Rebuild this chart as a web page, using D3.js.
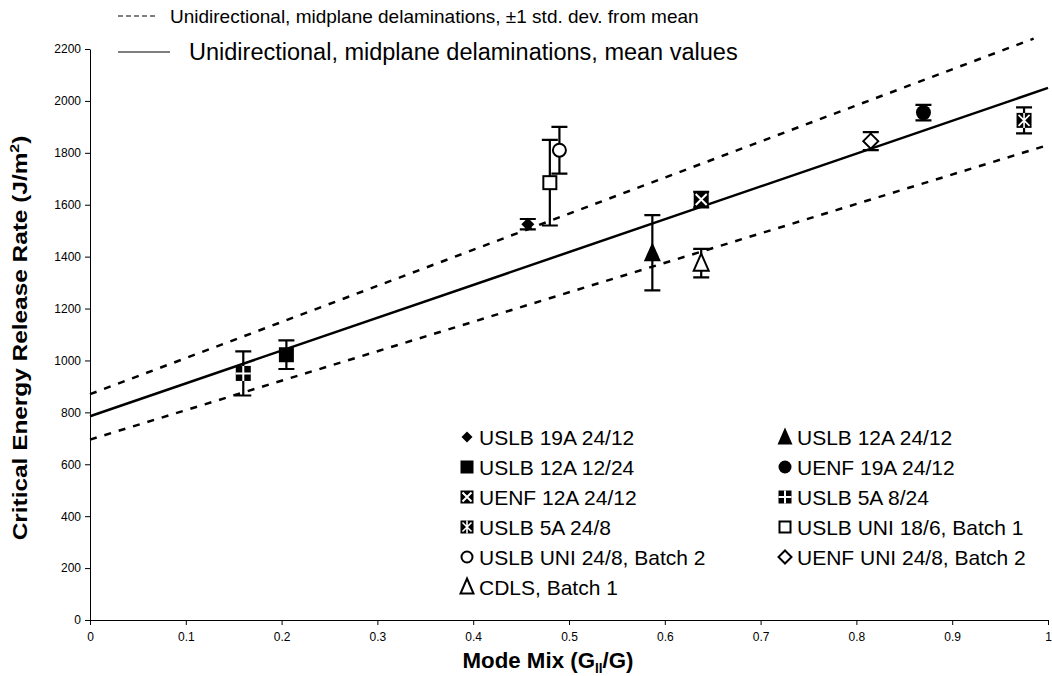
<!DOCTYPE html>
<html>
<head>
<meta charset="utf-8">
<script src="https://cdn.jsdelivr.net/npm/d3@7"></script>
<style>
  body { margin: 0; background: #fff; }
  svg { font-family: 'Liberation Sans', Arial, sans-serif; }
</style>
</head>
<body>
<div id="chart"></div>
<script>
// dados
const seriesNames = [
  'USLB 19A 24/12', 'USLB 12A 24/12',
  'USLB 12A 12/24', 'UENF 19A 24/12',
  'UENF 12A 24/12', 'USLB 5A 8/24',
  'USLB 5A 24/8', 'USLB UNI 18/6, Batch 1',
  'USLB UNI 24/8, Batch 2', 'UENF UNI 24/8, Batch 2',
  'CDLS, Batch 1'
]
const seriesX = [0.457, 0.587, 0.205, 0.870, 0.638, 0.160, 0.975, 0.480, 0.490, 0.815, 0.638]
const seriesY = [1525, 1415, 1022, 1955, 1620, 950, 1925, 1685, 1810, 1845, 1375]
const seriesErr = [20, 145, 55, 30, 30, 85, 50, 165, 90, 35, 55]

const meanX = [0, 1]
const meanY = [785, 2050]
const upperX = [0, 0.985]
const upperY = [870, 2240]
const lowerX = [0, 1]
const lowerY = [695, 1830]

const xTicks = [0, 0.1, 0.2, 0.3, 0.4, 0.5, 0.6, 0.7, 0.8, 0.9, 1]
const yTicks = [0, 200, 400, 600, 800, 1000, 1200, 1400, 1600, 1800, 2000, 2200]

const lineLabels = [
  'Unidirectional, midplane delaminations, \u00b11 std. dev. from mean',
  'Unidirectional, midplane delaminations, mean values'
]

const width = 1052
const height = 676
const margin = { top: 49, bottom: 56, left: 90, right: 4 }
const font = "'Liberation Sans', Arial, sans-serif"

const svg = d3.select('#chart')
  .append('svg')
  .attr('width', width)
  .attr('height', height)

const x = d3.scaleLinear()
  .domain([0, 1])
  .range([margin.left, width - margin.right])

const y = d3.scaleLinear()
  .domain([0, 2200])
  .range([height - margin.bottom, margin.top])

// eixos
const xAxis = svg.append('g')
  .attr('transform', `translate(0,${y(0)})`)
  .call(d3.axisBottom(x).tickValues(xTicks).tickSize(5).tickSizeOuter(0).tickFormat(d => String(+d.toFixed(1))))
xAxis.select('.domain').attr('stroke', '#000')
xAxis.selectAll('text').attr('font-size', '12px').attr('dy', '1.05em').attr('fill', '#000')
  .attr('font-family', font)

const yAxis = svg.append('g')
  .attr('transform', `translate(${x(0)},0)`)
  .call(d3.axisLeft(y).tickValues(yTicks).tickSize(5).tickSizeOuter(0).tickFormat(d => String(d)))
yAxis.select('.domain').attr('stroke', '#000')
yAxis.selectAll('text').attr('font-size', '12px').attr('x', -9).attr('fill', '#000')
  .attr('font-family', font)

// titulos dos eixos
const xTitle = svg.append('text')
  .attr('transform', 'translate(548, 668) scale(0.97, 1)')
  .attr('text-anchor', 'middle')
  .attr('font-size', '23px')
  .attr('font-weight', 'bold')
xTitle.append('tspan').text('Mode Mix (G')
xTitle.append('tspan').attr('font-size', '14px').attr('dy', 5).text('II')
xTitle.append('tspan').attr('dy', -5).text('/G)')

const yTitle = svg.append('text')
  .attr('transform', 'translate(27, 338) rotate(-90) scale(1.22, 1)')
  .attr('text-anchor', 'middle')
  .attr('font-size', '20px')
  .attr('font-weight', 'bold')
yTitle.append('tspan').text('Critical Energy Release Rate (J/m')
yTitle.append('tspan').attr('font-size', '13px').attr('dy', -8).text('2')
yTitle.append('tspan').attr('dy', 8).text(')')

// linhas de tendencia
const line = d3.line().x(d => x(d[0])).y(d => y(d[1]))

svg.append('path')
  .datum(d3.zip(upperX, upperY))
  .attr('d', line)
  .attr('fill', 'none').attr('stroke', '#000').attr('stroke-width', 2.5)
  .attr('stroke-dasharray', '7,8')

svg.append('path')
  .datum(d3.zip(lowerX, lowerY))
  .attr('d', line)
  .attr('fill', 'none').attr('stroke', '#000').attr('stroke-width', 2.5)
  .attr('stroke-dasharray', '7,8')

svg.append('path')
  .datum(d3.zip(meanX, meanY))
  .attr('d', line)
  .attr('fill', 'none').attr('stroke', '#000').attr('stroke-width', 2.5)

// marcadores
function drawMarker (g, i, s) {
  const h = s / 2
  const black = '#000'
  if (i === 0) {
    g.append('path').attr('d', `M0,${-h + 1}L${h - 1},0L0,${h - 1}L${-h + 1},0Z`).attr('fill', black)
  } else if (i === 1) {
    g.append('path').attr('d', `M0,${-h - 3}L${h + 1},${h + 1}L${-h - 1},${h + 1}Z`).attr('fill', black)
  } else if (i === 2) {
    g.append('rect').attr('x', -h).attr('y', -h).attr('width', s).attr('height', s).attr('fill', black)
  } else if (i === 3) {
    g.append('circle').attr('r', h).attr('fill', black)
  } else if (i === 4) {
    g.append('rect').attr('x', -h).attr('y', -h).attr('width', s).attr('height', s).attr('fill', black)
    g.append('path').attr('d', `M${-h + 2},${-h + 2}L${h - 2},${h - 2}M${h - 2},${-h + 2}L${-h + 2},${h - 2}`)
      .attr('stroke', '#fff').attr('stroke-width', 2)
  } else if (i === 5) {
    g.append('rect').attr('x', -h).attr('y', -h).attr('width', s).attr('height', s).attr('fill', black)
    g.append('path').attr('d', `M0,${-h}V${h}M${-h},0H${h}`).attr('stroke', '#fff').attr('stroke-width', 2)
  } else if (i === 6) {
    g.append('rect').attr('x', -h).attr('y', -h).attr('width', s).attr('height', s).attr('fill', black)
    g.append('path').attr('d', `M${-h + 2},${-h + 2}L${h - 2},${h - 2}M${h - 2},${-h + 2}L${-h + 2},${h - 2}M0,${-h}V${h}`)
      .attr('stroke', '#fff').attr('stroke-width', 1.6)
  } else if (i === 7) {
    g.append('rect').attr('x', -h + 1).attr('y', -h + 1).attr('width', s - 2).attr('height', s - 2)
      .attr('fill', '#fff').attr('stroke', black).attr('stroke-width', 2)
  } else if (i === 8) {
    g.append('circle').attr('r', h - 1).attr('fill', '#fff').attr('stroke', black).attr('stroke-width', 2)
  } else if (i === 9) {
    g.append('path').attr('d', `M0,${-h}L${h},0L0,${h}L${-h},0Z`)
      .attr('fill', '#fff').attr('stroke', black).attr('stroke-width', 2)
  } else {
    g.append('path').attr('d', `M0,${-h - 2}L${h},${h}L${-h},${h}Z`)
      .attr('fill', '#fff').attr('stroke', black).attr('stroke-width', 2)
  }
}

const points = svg.append('g')
seriesNames.forEach((name, i) => {
  const px = x(seriesX[i])
  const yHi = y(seriesY[i] + seriesErr[i])
  const yLo = y(seriesY[i] - seriesErr[i])
  points.append('path')
    .attr('d', `M${px},${yHi}V${yLo}M${px - 8},${yHi}H${px + 8}M${px - 8},${yLo}H${px + 8}`)
    .attr('stroke', '#000').attr('stroke-width', 2.2).attr('fill', 'none')
  const g = points.append('g').attr('transform', `translate(${px},${y(seriesY[i])})`)
  drawMarker(g, i, 15)
})

// legenda das series
const legend = svg.append('g')
seriesNames.forEach((name, i) => {
  const col = i % 2
  const row = Math.floor(i / 2)
  const lx = col === 0 ? 467 : 785
  const ly = 437 + row * 30
  const g = legend.append('g').attr('transform', `translate(${lx},${ly})`)
  drawMarker(g, i, 13)
  legend.append('text')
    .attr('x', lx + 12)
    .attr('y', ly)
    .attr('dy', '0.36em')
    .attr('font-size', '21px')
    .text(name)
})

// legenda das linhas (topo)
svg.append('line')
  .attr('x1', 118).attr('x2', 155).attr('y1', 16).attr('y2', 16)
  .attr('stroke', '#000').attr('stroke-width', 1.2).attr('stroke-dasharray', '5,3')
svg.append('text')
  .attr('x', 170).attr('y', 16).attr('dy', '0.36em')
  .attr('font-size', '19px')
  .text(lineLabels[0])
svg.append('line')
  .attr('x1', 118).attr('x2', 170).attr('y1', 52).attr('y2', 52)
  .attr('stroke', '#000').attr('stroke-width', 1.2)
svg.append('text')
  .attr('x', 189).attr('y', 52).attr('dy', '0.36em')
  .attr('font-size', '23.5px')
  .text(lineLabels[1])
</script>
</body>
</html>
